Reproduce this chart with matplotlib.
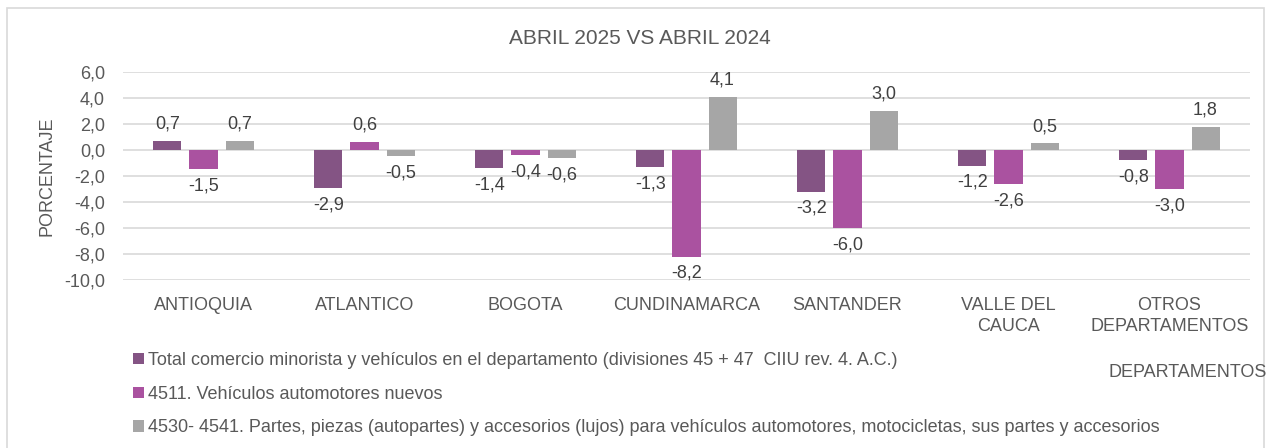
import matplotlib
matplotlib.use("Agg")
import matplotlib.pyplot as plt
from matplotlib.patches import Rectangle
import numpy as np

plt.rcParams['font.family'] = ['Liberation Sans', 'DejaVu Sans']

departamentos = ["ANTIOQUIA", "ATLANTICO", "BOGOTA", "CUNDINAMARCA", "SANTANDER",
                 "VALLE DEL\nCAUCA", "OTROS\nDEPARTAMENTOS"]
total_comercio = [0.7, -2.9, -1.4, -1.3, -3.2, -1.2, -0.8]
vehiculos_nuevos = [-1.5, 0.6, -0.4, -8.2, -6.0, -2.6, -3.0]
autopartes = [0.7, -0.5, -0.6, 4.1, 3.0, 0.5, 1.8]

series_labels = [
    "Total comercio minorista y vehículos en el departamento (divisiones 45 + 47  CIIU rev. 4. A.C.)",
    "4511. Vehículos automotores nuevos",
    "4530- 4541. Partes, piezas (autopartes) y accesorios (lujos) para vehículos automotores, motocicletas, sus partes y accesorios",
]
colors = ["#845484", "#AA52A0", "#A6A6A6"]
yticks = np.arange(-10, 7, 2)

text_color = "#595959"
fs = 13

fig = plt.figure(figsize=(12.72, 4.48), dpi=100)
ax = fig.add_axes([0.0967, 0.375, 0.886, 0.4643])

x = np.arange(len(departamentos))
width = 0.174
offsets = [-0.224, 0.0, 0.224]
handles = []
for vals, off, col, lab in zip([total_comercio, vehiculos_nuevos, autopartes], offsets, colors, series_labels):
    bars = ax.bar(x + off, vals, width, color=col, label=lab, zorder=3)
    handles.append(bars)
    for xi, v in zip(x + off, vals):
        txt = f"{v:.1f}".replace(".", ",")
        if v >= 0:
            ax.annotate(txt, (xi, v), xytext=(0, 6), textcoords="offset points",
                        ha="center", va="bottom", fontsize=fs, color="#404040")
        else:
            ax.annotate(txt, (xi, v), xytext=(0, -6), textcoords="offset points",
                        ha="center", va="top", fontsize=fs, color="#404040")

ax.set_xlim(-0.5, len(departamentos) - 0.5)
ax.set_ylim(-10, 6)
ax.set_yticks(yticks)
ax.set_yticklabels([f"{t:.1f}".replace(".", ",") for t in yticks], fontsize=fs, color=text_color)
ax.set_xticks(x)
ax.set_xticklabels(departamentos, fontsize=fs, color=text_color, linespacing=1.35)
ax.tick_params(axis="y", length=0, pad=13)
ax.tick_params(axis="x", length=0, pad=12)
ax.grid(axis="y", color="#D9D9D9", linewidth=1.2, zorder=0)
for s in ax.spines.values():
    s.set_visible(False)

ax.set_ylabel("PORCENTAJE", fontsize=fs, color=text_color, labelpad=6)
fig.text(0.503, 0.915, "ABRIL 2025 VS ABRIL 2024", ha="center", va="center",
         fontsize=15, color=text_color)
fig.text(0.934, 0.168, "DEPARTAMENTOS", ha="center", va="center",
         fontsize=fs, color=text_color)

fig.legend(handles=handles, labels=series_labels, loc="center left",
           bbox_to_anchor=(0.1045, 0.12), frameon=False, fontsize=fs,
           handlelength=0.6, handleheight=0.6, handletextpad=0.25,
           labelspacing=0.92, labelcolor=text_color, borderpad=0, borderaxespad=0)

fig.patches.append(Rectangle((7 / 1272, -0.01), 1257 / 1272, 1 - 8 / 448 + 0.01,
                             transform=fig.transFigure, fill=False,
                             edgecolor="#D9D9D9", linewidth=1.2))

fig.savefig("out.png", dpi=100)
